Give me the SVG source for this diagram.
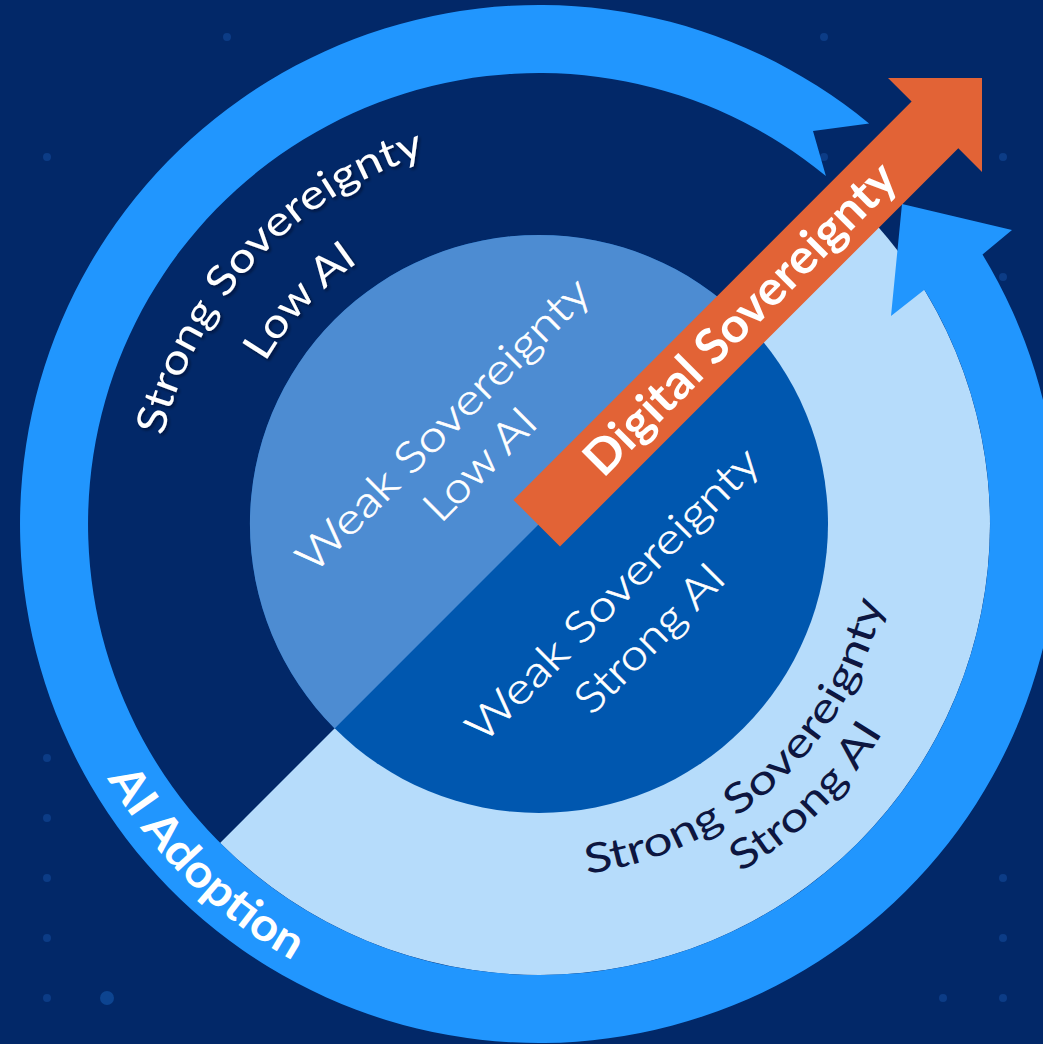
<svg xmlns="http://www.w3.org/2000/svg" width="1043" height="1044" viewBox="0 0 1043 1044">
<defs>
<style>
.bg{fill:#022868}
.ring{fill:#2196FE}
.lb{fill:#B6DCFB}
.in-dark{fill:#0057AF}
.in-light{fill:#4D8CD2}
.arrow{fill:#E26336}
.dot{fill:#0C3C86}
.dot-big{fill:#0D4490}
text{font-family:Lato,'Noto Sans','DejaVu Sans',sans-serif}
.tw{fill:#ffffff}
.td{fill:#0D1640}
.light{font-weight:300;font-size:42px;stroke:#ffffff;stroke-width:0.6px}
.reg{font-weight:400;font-size:41px}
.bold{font-weight:700}
</style>
<filter id="sh" x="-10%" y="-10%" width="120%" height="120%">
<feDropShadow dx="2" dy="2" stdDeviation="1.5" flood-color="#000010" flood-opacity="0.5"/>
</filter>
<path id="pA1" d="M169.9,636.9 A386,386 0 0 1 625.8,147.9"/>
<path id="pA2" d="M234.9,617 A318,318 0 0 1 610.5,214.1"/>
<path id="pD1" d="M432.9,860.7 A353,353 0 0 0 883.6,447.6"/>
<path id="pD2" d="M430.9,911.2 A402,402 0 0 0 928.4,424"/>
<path id="pAI" d="M53.8,399 A501,501 0 0 0 673.3,1006.7"/>
</defs>

<rect class="bg" x="0" y="0" width="1043" height="1044"/>

<g id="dots">
<circle class="dot" cx="47" cy="157" r="4"/>
<circle class="dot" cx="227" cy="37" r="4"/>
<circle class="dot" cx="824" cy="37" r="4"/>
<circle class="dot" cx="824" cy="157" r="4"/>
<circle class="dot" cx="1003" cy="157" r="4"/>
<circle class="dot" cx="1003" cy="277" r="4"/>
<circle class="dot" cx="47" cy="758" r="4"/>
<circle class="dot" cx="47" cy="818" r="4"/>
<circle class="dot" cx="47" cy="878" r="4"/>
<circle class="dot" cx="47" cy="938" r="4"/>
<circle class="dot" cx="47" cy="998" r="4"/>
<circle class="dot-big" cx="107" cy="998" r="7"/>
<circle class="dot" cx="1003" cy="878" r="4"/>
<circle class="dot" cx="1003" cy="938" r="4"/>
<circle class="dot" cx="943" cy="998" r="4"/>
<circle class="dot" cx="1003" cy="998" r="4"/>
</g>

<g id="outer-quadrant">
<path class="lb" d="M220.1,842.9 A451,451 0 0 0 857.9,842.9 A451,451 0 0 0 857.9,205.1 Z"/>
</g>

<g id="inner-circle">
<circle class="in-dark" cx="539" cy="524" r="289"/>
<path class="in-light" d="M334.6,728.4 A289,289 0 0 1 334.6,319.6 A289,289 0 0 1 743.4,319.6 Z"/>
</g>

<g id="connectors">
<path id="ai-adoption-ring" class="ring" d="M924.4,289.7 L891,316 L902,204 L1012,230 L982.5,254.4 A519,519 0 1 1 869.1,123.5 L813,131 L825.9,176 A451,451 0 1 0 924.4,289.7 Z"/>
<polygon id="digital-sovereignty-arrow" class="arrow" points="513.4,499.9 911.6,101.6 888,78 982,78 982,172 958.3,148.3 560,546.6"/>
</g>

<g id="label-strong-low" filter="url(#sh)">
<text class="tw reg" text-anchor="middle"><textPath href="#pA1" startOffset="50%" textLength="402" lengthAdjust="spacingAndGlyphs">Strong Sovereignty</textPath></text>
<text class="tw reg" text-anchor="middle"><textPath href="#pA2" startOffset="50%" textLength="138" lengthAdjust="spacingAndGlyphs">Low AI</textPath></text>
</g>

<g id="label-weak-low" transform="rotate(-45)">
<text class="tw light" x="13" y="628" text-anchor="middle" textLength="395" lengthAdjust="spacingAndGlyphs">Weak Sovereignty</text>
<text class="tw light" x="11" y="682" text-anchor="middle" textLength="140" lengthAdjust="spacingAndGlyphs">Low AI</text>
</g>

<g id="label-weak-strong" transform="rotate(-45)">
<text class="tw light" x="13" y="868" text-anchor="middle" textLength="395" lengthAdjust="spacingAndGlyphs">Weak Sovereignty</text>
<text class="tw light" x="8" y="925" text-anchor="middle" textLength="192" lengthAdjust="spacingAndGlyphs">Strong AI</text>
</g>

<g id="label-strong-strong">
<text class="td reg" text-anchor="middle"><textPath href="#pD1" startOffset="50%" textLength="428" lengthAdjust="spacingAndGlyphs">Strong Sovereignty</textPath></text>
<text class="td reg" text-anchor="middle"><textPath href="#pD2" startOffset="50%" textLength="202" lengthAdjust="spacingAndGlyphs">Strong AI</textPath></text>
</g>

<g id="label-digital-sovereignty" transform="rotate(-45)">
<text class="tw bold" x="298" y="765" font-size="48" text-anchor="middle" textLength="420" lengthAdjust="spacingAndGlyphs">Digital Sovereignty</text>
</g>

<g id="label-ai-adoption">
<text class="tw bold" font-size="46" text-anchor="middle"><textPath href="#pAI" startOffset="50%" textLength="263" lengthAdjust="spacingAndGlyphs">AI Adoption</textPath></text>
</g>
</svg>
